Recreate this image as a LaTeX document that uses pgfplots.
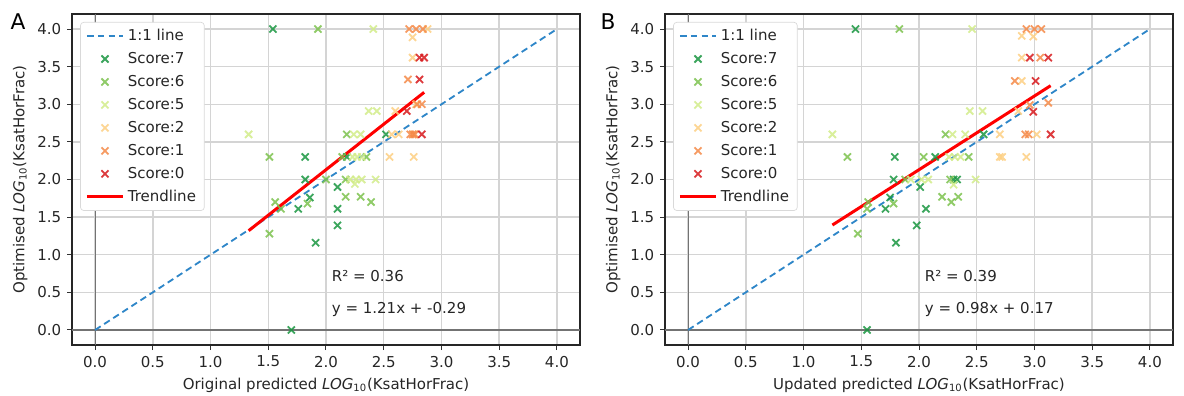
\documentclass[border=0pt]{standalone}
\usepackage{pgfplots}
\pgfplotsset{compat=1.18}
\usepackage{fontspec}
\setmainfont{DejaVu Sans}
\definecolor{sseven}{HTML}{1A9641}
\definecolor{ssix}{HTML}{7CC24E}
\definecolor{sfive}{HTML}{D2EC8A}
\definecolor{stwo}{HTML}{FDCF82}
\definecolor{sone}{HTML}{F58A48}
\definecolor{szero}{HTML}{D7191C}
\definecolor{oneone}{HTML}{2E86C8}
\pgfplotsset{
 myaxis/.style={
  scale only axis, width=304.8pt, height=198.6pt,
  xmin=-0.2,xmax=4.2,ymin=-0.2,ymax=4.2,
  xtick={0,0.5,1,1.5,2,2.5,3,3.5,4}, ytick={0,0.5,1,1.5,2,2.5,3,3.5,4},
  xticklabel style={/pgf/number format/.cd,fixed,fixed zerofill,precision=1},
  yticklabel style={/pgf/number format/.cd,fixed,fixed zerofill,precision=1},
  /pgf/number format/assume math mode=true,
  grid=major, grid style={black!17, line width=0.9pt},
  tick align=outside, tick pos=left, major tick length=3pt,
  tick style={black!80, line width=0.6pt},
  axis line style={black!85, line width=0.7pt},
  ticklabel style={font=\fontsize{9}{11}\selectfont, text=black!85},
  label style={font=\fontsize{9}{11}\selectfont, text=black!85},
  xlabel style={at={(axis description cs:0.5,-0.121)}, anchor=center},
  ylabel style={at={(axis description cs:-0.102,0.5)}, anchor=center},
  legend style={at={(0.016,0.976)}, anchor=north west, draw=black!15,
    rounded corners=2pt, font=\fontsize{9}{11}\selectfont, row sep=1.6pt,
    inner xsep=3pt, inner ysep=2pt, text=black!85},
  legend cell align=left,
  legend image code/.code={\draw[mark repeat=2,mark phase=2,#1] plot coordinates {(0cm,0cm) (0.38cm,0cm) (0.76cm,0cm)};},
  sc/.style={only marks, mark=x, mark size=3pt, line width=1.1pt, opacity=0.85},
 }
}
\begin{document}
\begin{tikzpicture}
\path[use as bounding box] (0,0) rectangle (710.4pt,-237.6pt);
\node[font=\fontsize{13}{15}\selectfont] at (10.8pt,-13.2pt) {A};
\node[font=\fontsize{13}{15}\selectfont] at (364.8pt,-13.2pt) {B};
% Panel A
\begin{axis}[myaxis, at={(43.2pt,-207pt)}, anchor=south west,
  xlabel={Original predicted \textit{LOG}\textsubscript{10}(KsatHorFrac)},
  ylabel={Optimised \textit{LOG}\textsubscript{10}(KsatHorFrac)}]
\addplot[forget plot, black!55, line width=0.7pt] coordinates {(-0.2,0) (4.2,0)};
\addplot[forget plot, black!55, line width=0.7pt] coordinates {(0,-0.2) (0,4.2)};
\addplot[oneone, dashed, dash pattern=on 4pt off 2.5pt, line width=1.1pt] coordinates {(0,0) (4,4)};
\addlegendentry{1:1 line}
\addplot[sc, color=sseven] coordinates {(1.54,4.0) (1.82,2.3) (1.91,1.16) (1.76,1.61) (1.86,1.76) (1.82,2.0) (2.10,1.90) (2.10,1.61) (2.10,1.39) (2.18,2.3) (2.52,2.6) (1.70,0.0)};
\addlegendentry{Score:7}
\addplot[sc, color=ssix] coordinates {(1.93,4.0) (1.51,2.3) (1.51,1.28) (1.56,1.70) (1.61,1.61) (1.84,1.68) (2.0,2.0) (2.17,1.77) (2.17,2.0) (2.30,1.77) (2.39,1.70) (2.14,2.3) (2.35,2.3) (2.18,2.6)};
\addlegendentry{Score:6}
\addplot[sc, color=sfive] coordinates {(2.41,4.0) (1.33,2.6) (2.24,2.6) (2.30,2.6) (2.37,2.91) (2.44,2.91) (2.21,2.0) (2.26,2.0) (2.31,2.0) (2.43,2.0) (2.23,2.3) (2.27,2.3) (2.31,2.3) (2.25,1.94)};
\addlegendentry{Score:5}
\addplot[sc, color=stwo] coordinates {(2.55,2.3) (2.76,2.3) (2.57,2.6) (2.63,2.6) (2.60,2.91) (2.75,3.89) (2.75,3.62) (2.88,4.0) (2.78,3.0) (2.76,2.6)};
\addlegendentry{Score:2}
\addplot[sc, color=sone] coordinates {(2.72,4.0) (2.78,4.0) (2.84,4.0) (2.71,3.33) (2.79,3.0) (2.83,3.0) (2.73,2.6) (2.75,2.6) (2.77,2.6)};
\addlegendentry{Score:1}
\addplot[sc, color=szero] coordinates {(2.81,3.62) (2.85,3.62) (2.81,3.33) (2.70,2.91) (2.83,2.6)};
\addlegendentry{Score:0}
\addplot[red, line width=1.8pt] coordinates {(1.33,1.3193) (2.85,3.1585)};
\addlegendentry{Trendline}
\node[anchor=base west, font=\fontsize{9}{11}\selectfont, text=black!85] at (axis cs:2.0,0.65) {R² = 0.36};
\node[anchor=base west, font=\fontsize{9}{11}\selectfont, text=black!85] at (axis cs:2.0,0.22) {y = 1.21x + -0.29};
\end{axis}
% Panel B
\begin{axis}[myaxis, at={(399pt,-207pt)}, anchor=south west,
  xlabel={Updated predicted \textit{LOG}\textsubscript{10}(KsatHorFrac)},
  ylabel={Optimised \textit{LOG}\textsubscript{10}(KsatHorFrac)}]
\addplot[forget plot, black!55, line width=0.7pt] coordinates {(-0.2,0) (4.2,0)};
\addplot[forget plot, black!55, line width=0.7pt] coordinates {(0,-0.2) (0,4.2)};
\addplot[oneone, dashed, dash pattern=on 4pt off 2.5pt, line width=1.1pt] coordinates {(0,0) (4,4)};
\addlegendentry{1:1 line}
\addplot[sc, color=sseven] coordinates {(1.45,4.0) (1.79,2.3) (1.80,1.16) (1.71,1.61) (1.75,1.76) (1.78,2.0) (2.01,1.90) (2.06,1.61) (1.98,1.39) (2.14,2.3) (2.56,2.6) (1.55,0.0) (2.30,2.0) (2.33,2.0)};
\addlegendentry{Score:7}
\addplot[sc, color=ssix] coordinates {(1.83,4.0) (1.38,2.3) (1.47,1.28) (1.56,1.70) (1.55,1.61) (1.78,1.68) (1.88,2.0) (2.04,2.3) (2.43,2.3) (2.20,1.77) (2.28,1.70) (2.34,1.77) (2.23,2.6) (2.27,2.0)};
\addlegendentry{Score:6}
\addplot[sc, color=sfive] coordinates {(2.46,4.0) (1.25,2.6) (2.29,2.6) (2.40,2.6) (2.44,2.91) (2.55,2.91) (1.93,2.0) (2.02,2.0) (2.08,2.0) (2.49,2.0) (2.26,2.3) (2.31,2.3) (2.36,2.3) (2.30,1.93)};
\addlegendentry{Score:5}
\addplot[sc, color=stwo] coordinates {(2.70,2.3) (2.93,2.3) (2.70,2.6) (3.02,2.6) (2.86,2.91) (2.89,3.91) (2.99,3.9) (2.89,3.62) (2.89,3.31) (2.72,2.3)};
\addlegendentry{Score:2}
\addplot[sc, color=sone] coordinates {(2.93,4.0) (3.00,4.0) (3.06,4.0) (3.05,3.62) (2.83,3.31) (2.96,2.99) (3.12,3.02) (2.92,2.6) (2.95,2.6)};
\addlegendentry{Score:1}
\addplot[sc, color=szero] coordinates {(2.96,3.62) (3.12,3.62) (3.01,3.31) (2.99,2.90) (3.14,2.6)};
\addlegendentry{Score:0}
\addplot[red, line width=1.8pt] coordinates {(1.25,1.395) (3.14,3.2472)};
\addlegendentry{Trendline}
\node[anchor=base west, font=\fontsize{9}{11}\selectfont, text=black!85] at (axis cs:2.0,0.65) {R² = 0.39};
\node[anchor=base west, font=\fontsize{9}{11}\selectfont, text=black!85] at (axis cs:2.0,0.22) {y = 0.98x + 0.17};
\end{axis}
\end{tikzpicture}
\end{document}
